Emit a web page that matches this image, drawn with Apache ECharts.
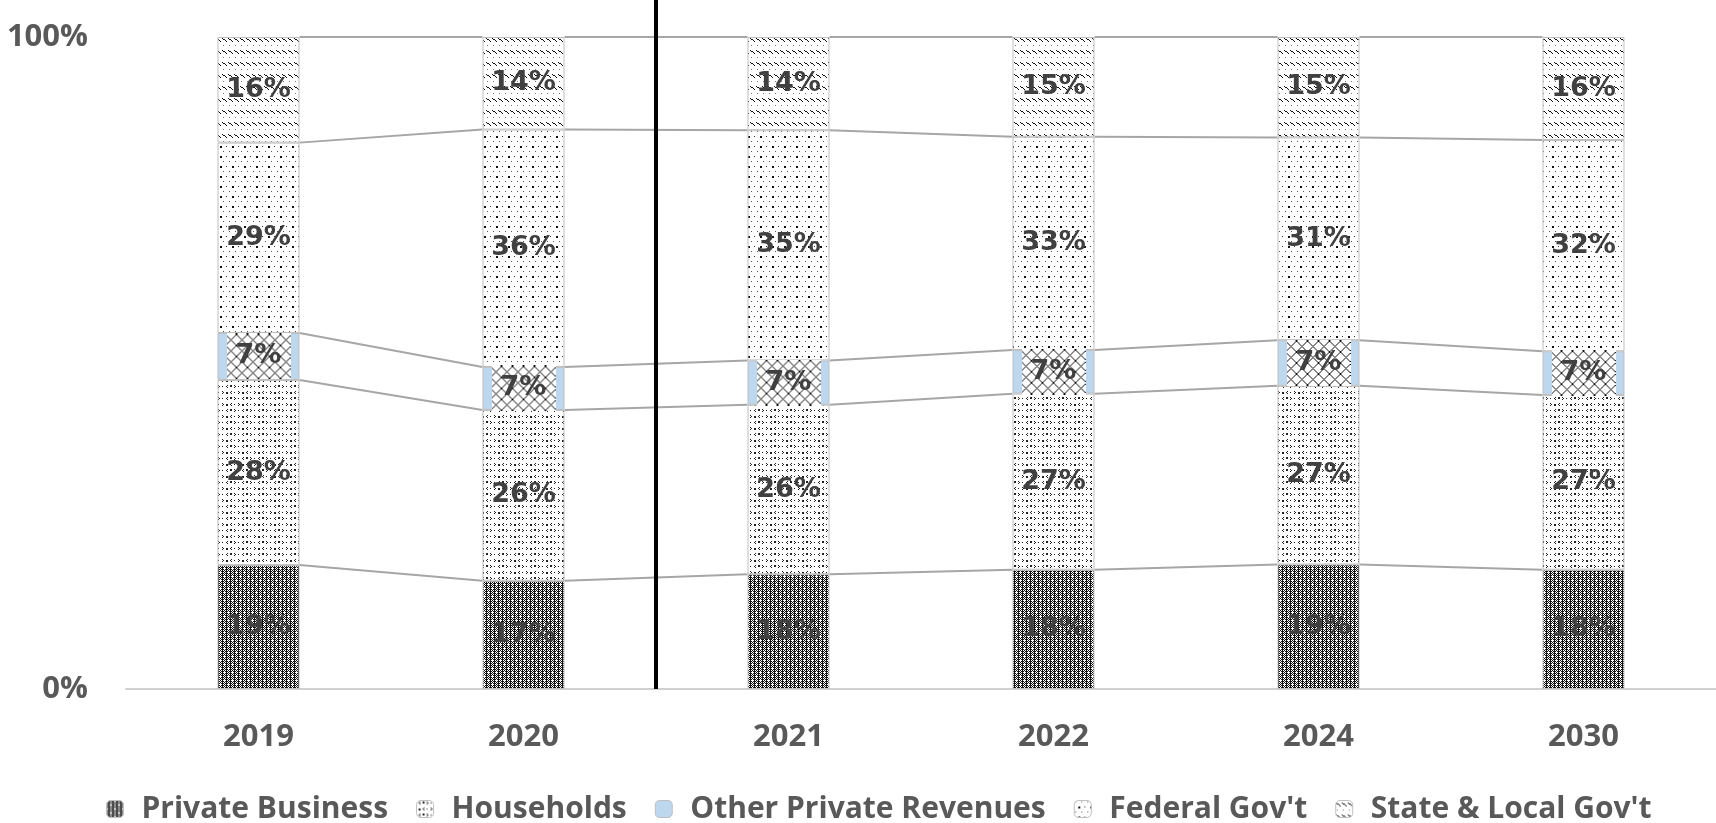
<!DOCTYPE html>
<html>
<head>
<meta charset="utf-8">
<script src="https://cdn.jsdelivr.net/npm/echarts@6/dist/echarts.min.js"></script>
<style>
  html, body { margin: 0; padding: 0; background: #fff; }
  #chart { width: 1716px; height: 823px; }
</style>
</head>
<body>
<div id="chart"></div>
<script>
// Share of spending by funding source (percent of total, each year sums to 100)
const years = ['2019', '2020', '2021', '2022', '2024', '2030'];
const privateBusiness = [19.0, 16.6, 17.6, 18.3, 19.1, 18.3];
const households      = [28.4, 26.2, 26.0, 27.0, 27.4, 26.8];
const otherPrivate    = [7.2, 6.6, 6.8, 6.7, 7.0, 6.7];
const federalGov      = [29.2, 36.4, 35.3, 32.7, 31.1, 32.4];
const stateLocalGov   = [16.2, 14.2, 14.3, 15.3, 15.4, 15.8];
const seriesNames = ['Private Business', 'Households', 'Other Private Revenues', "Federal Gov't", "State & Local Gov't"];
const yTicks = [0, 100];
// Actual years on the left of the divider, projections on the right
const dividerAfter = '2020';

const BAR_W = 82;
const FONT = '"Open Sans", "Noto Sans", sans-serif';

// ---- fill patterns -------------------------------------------------------
function tile(w, h, draw) {
  const c = document.createElement('canvas');
  c.width = w; c.height = h;
  const ctx = c.getContext('2d');
  ctx.fillStyle = '#fff';
  ctx.fillRect(0, 0, w, h);
  draw(ctx);
  return c;
}
function px(ctx, pts, color) {
  ctx.fillStyle = color;
  pts.forEach(p => ctx.fillRect(p[0], p[1], p[2] || 1, p[3] || 1));
}

// dense dark grid
const businessTile = tile(8, 8, ctx => {
  const b = [];
  for (let y = 0; y < 8; y++) for (let x = 0; x < 8; x++) {
    if ((x + y) % 2 === 0 || (x % 4 === 2 && y % 2 === 1)) b.push([x, y]);
  }
  px(ctx, b, '#111');
  px(ctx, [[4, 3], [3, 4], [4, 4], [5, 4], [4, 5], [0, 0]], '#fff');
});
// chevrons and dots
const householdsTile = tile(16, 12, ctx => {
  const c = '#222';
  px(ctx, [[3, 1], [2, 2], [3, 3]], c);          // <
  px(ctx, [[6, 1, 2, 2]], c);                      // dot
  px(ctx, [[10, 1], [11, 2], [10, 3]], c);        // >
  px(ctx, [[14, 2]], c);
  px(ctx, [[2, 8, 2, 2]], c);
  px(ctx, [[7, 7], [6, 8], [7, 9]], c);
  px(ctx, [[10, 8]], c);
  px(ctx, [[14, 7], [15, 8], [14, 9]], c);
});
// sparse dots
const federalTile = tile(12, 10, ctx => {
  px(ctx, [[1, 1], [7, 1]], '#555');
  px(ctx, [[4, 6, 2, 2]], '#111');
  px(ctx, [[10, 6, 1, 1]], '#333');
});
// rows of short diagonal dashes
const stateTile = tile(6, 12, ctx => {
  px(ctx, [[0, 2], [1, 3], [2, 3], [3, 4], [4, 5]], '#111');
  px(ctx, [[1, 9]], '#777');
});
// crosshatch box shown behind the small-segment labels
function crosshatch(w, h) {
  return tile(w, h, ctx => {
    ctx.strokeStyle = '#111';
    ctx.lineWidth = 1;
    const step = 11;
    ctx.beginPath();
    for (let k = -h; k < w + h; k += step) {
      ctx.moveTo(k, 0); ctx.lineTo(k + h, h);
      ctx.moveTo(k + h, 0); ctx.lineTo(k, h);
    }
    ctx.stroke();
  });
}
const HATCH_W = 64, HATCH_H = 46;
const hatchBox = crosshatch(HATCH_W, HATCH_H);

const pat = c => ({ image: c, repeat: 'repeat' });

// ---- series ---------------------------------------------------------------
const stacks = [privateBusiness, households, otherPrivate, federalGov, stateLocalGov];
const fills = [pat(businessTile), pat(householdsTile), '#bdd7ee', pat(federalTile), pat(stateTile)];

const labelBase = {
  show: true,
  position: 'inside',
  fontFamily: '"DejaVu Sans", sans-serif',
  fontWeight: 'bold',
  fontSize: 27,
  color: '#404040',
  formatter: p => Math.round(p.value) + '%'
};

const barSeries = stacks.map((arr, k) => {
  const label = Object.assign({}, labelBase);
  if (k === 2) {
    Object.assign(label, {
      backgroundColor: { image: hatchBox },
      width: HATCH_W,
      height: HATCH_H,
      lineHeight: HATCH_H,
      align: 'center',
      verticalAlign: 'middle',
      padding: 0
    });
  }
  return {
    name: seriesNames[k],
    type: 'bar',
    stack: 'total',
    barWidth: BAR_W,
    data: arr,
    z: 3,
    itemStyle: { color: fills[k], borderColor: '#bfbfbf', borderWidth: 1 },
    label: label,
    emphasis: { disabled: true }
  };
});

// cumulative top of each segment per year
const levels = years.map((_, i) => {
  let c = 0;
  return stacks.map(a => (c += a[i]));
});

// connector lines between the segment tops of neighbouring bars
const connectorSeries = {
  type: 'custom',
  name: 'connectors',
  z: 2,
  silent: true,
  data: years.slice(0, -1).map((_, i) => [i, 0]),
  encode: { x: 0, y: 1 },
  renderItem: (params, api) => {
    const i = api.value(0);
    const children = levels[i].map((lv, k) => {
      const a = api.coord([i, lv]);
      const b = api.coord([i + 1, levels[i + 1][k]]);
      return {
        type: 'line',
        shape: { x1: a[0] + BAR_W / 2, y1: a[1], x2: b[0] - BAR_W / 2, y2: b[1] },
        style: { stroke: '#a6a6a6', lineWidth: 2 }
      };
    });
    return { type: 'group', children };
  }
};

const dividerIdx = years.indexOf(dividerAfter);
const dividerSeries = {
  type: 'custom',
  name: 'divider',
  z: 4,
  silent: true,
  clip: false,
  data: [[dividerIdx, 0]],
  encode: { x: 0, y: 1 },
  renderItem: (params, api) => {
    const i = api.value(0);
    const a = api.coord([i, 0]);
    const b = api.coord([i + 1, 0]);
    const x = (a[0] + b[0]) / 2;
    return {
      type: 'rect',
      shape: { x: x - 2, y: 0, width: 4, height: a[1] },
      style: { fill: '#000' }
    };
  }
};

const chart = echarts.init(document.getElementById('chart'));
chart.setOption({
  animation: false,
  backgroundColor: '#fff',
  grid: { left: 126, right: 0, top: 37, bottom: 134, containLabel: false },
  legend: {
    data: seriesNames,
    top: 789,
    left: 101,
    itemWidth: 17,
    itemHeight: 17,
    itemGap: 28,
    selectedMode: false,
    itemStyle: { borderColor: '#bfbfbf', borderWidth: 1 },
    textStyle: {
      fontFamily: FONT,
      fontWeight: 'bold',
      fontSize: 30,
      color: '#595959',
      padding: [0, 0, 0, 13]
    }
  },
  xAxis: {
    type: 'category',
    data: years,
    axisLine: { lineStyle: { color: '#d0d0d0', width: 2 } },
    axisTick: { show: false },
    axisLabel: { fontFamily: FONT, fontWeight: 'bold', fontSize: 31, color: '#595959', margin: 33 }
  },
  yAxis: {
    type: 'value',
    min: yTicks[0],
    max: yTicks[yTicks.length - 1],
    interval: yTicks[1] - yTicks[0],
    splitLine: { show: false },
    axisLine: { show: false },
    axisTick: { show: false },
    axisLabel: { formatter: '{value}%', fontFamily: FONT, fontWeight: 'bold', fontSize: 31, color: '#595959', margin: 38 }
  },
  series: barSeries.concat([connectorSeries, dividerSeries])
});
</script>
</body>
</html>
